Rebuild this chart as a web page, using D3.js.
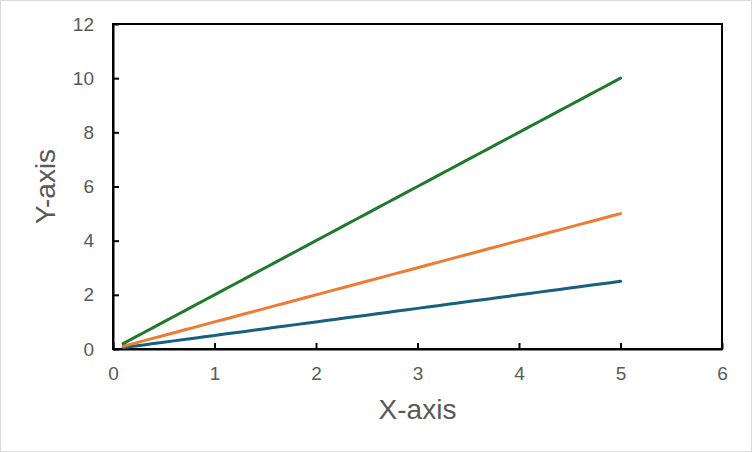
<!DOCTYPE html>
<html><head><meta charset="utf-8">
<script src="https://cdn.jsdelivr.net/npm/d3@7"></script>
<style>body{margin:0;background:#fff}svg{display:block}</style>
</head><body>
<script>
const xValues = [0.1,0.2,0.3,0.4,0.5,0.6,0.7,0.8,0.9,1.0,1.1,1.2,1.3,1.4,1.5,1.6,1.7,1.8,1.9,2.0,2.1,2.2,2.3,2.4,2.5,2.6,2.7,2.8,2.9,3.0,3.1,3.2,3.3,3.4,3.5,3.6,3.7,3.8,3.9,4.0,4.1,4.2,4.3,4.4,4.5,4.6,4.7,4.8,4.9,5.0];
const seriesGreen = [0.2,0.4,0.6,0.8,1.0,1.2,1.4,1.6,1.8,2.0,2.2,2.4,2.6,2.8,3.0,3.2,3.4,3.6,3.8,4.0,4.2,4.4,4.6,4.8,5.0,5.2,5.4,5.6,5.8,6.0,6.2,6.4,6.6,6.8,7.0,7.2,7.4,7.6,7.8,8.0,8.2,8.4,8.6,8.8,9.0,9.2,9.4,9.6,9.8,10.0];
const seriesOrange = [0.1,0.2,0.3,0.4,0.5,0.6,0.7,0.8,0.9,1.0,1.1,1.2,1.3,1.4,1.5,1.6,1.7,1.8,1.9,2.0,2.1,2.2,2.3,2.4,2.5,2.6,2.7,2.8,2.9,3.0,3.1,3.2,3.3,3.4,3.5,3.6,3.7,3.8,3.9,4.0,4.1,4.2,4.3,4.4,4.5,4.6,4.7,4.8,4.9,5.0];
const seriesBlue = [0.05,0.1,0.15,0.2,0.25,0.3,0.35,0.4,0.45,0.5,0.55,0.6,0.65,0.7,0.75,0.8,0.85,0.9,0.95,1.0,1.05,1.1,1.15,1.2,1.25,1.3,1.35,1.4,1.45,1.5,1.55,1.6,1.65,1.7,1.75,1.8,1.85,1.9,1.95,2.0,2.05,2.1,2.15,2.2,2.25,2.3,2.35,2.4,2.45,2.5];
const xTicks = [0,1,2,3,4,5,6];
const yTicks = [0,2,4,6,8,10,12];
const xTitle = "X-axis", yTitle = "Y-axis";

const W = 752, H = 452;
const L = 113, R = 722, T = 24, B = 349;
const svg = d3.select("body").append("svg").attr("width", W).attr("height", H);
svg.append("rect").attr("x",0.5).attr("y",0.5).attr("width",W-1).attr("height",H-1)
  .attr("fill","#fff").attr("stroke","#d9d9d9").attr("stroke-width",1);

const x = d3.scaleLinear().domain([0,6]).range([L,R]);
const y = d3.scaleLinear().domain([0,12]).range([B,T]);
const font = "'Liberation Sans', Arial, sans-serif";

svg.append("rect").attr("x",L).attr("y",T).attr("width",R-L).attr("height",B-T)
  .attr("fill","none").attr("stroke","#000").attr("stroke-width",2);

const xAxis = svg.append("g").attr("transform",`translate(0,${B})`)
  .call(d3.axisBottom(x).tickValues(xTicks).tickSizeInner(-6).tickSizeOuter(0).tickPadding(18).tickFormat(d3.format("d")));
xAxis.select(".domain").attr("stroke","#000").attr("stroke-width",2);
xAxis.selectAll(".tick line").attr("stroke","#000").attr("stroke-width",2);
xAxis.selectAll(".tick text").attr("fill","#595959").style("font-family",font).style("font-size","19px");

const yAxis = svg.append("g").attr("transform",`translate(${L},0)`)
  .call(d3.axisLeft(y).tickValues(yTicks).tickSizeInner(-6).tickSizeOuter(0).tickPadding(19).tickFormat(d3.format("d")));
yAxis.select(".domain").attr("stroke","#000").attr("stroke-width",2);
yAxis.selectAll(".tick line").attr("stroke","#000").attr("stroke-width",2);
yAxis.selectAll(".tick text").attr("fill","#595959").style("font-family",font).style("font-size","19px");

const series = [
  {vals: seriesBlue, color: "#17607f"},
  {vals: seriesOrange, color: "#ef7a31"},
  {vals: seriesGreen, color: "#1f7a2e"}
];
const line = d3.line().x(d=>x(d[0])).y(d=>y(d[1]));
series.forEach(s=>{
  svg.append("path").datum(xValues.map((v,i)=>[v,s.vals[i]]))
    .attr("d",line).attr("fill","none").attr("stroke",s.color)
    .attr("stroke-width",3).attr("stroke-linejoin","round").attr("stroke-linecap","round");
});

svg.append("text").attr("x",(L+R)/2).attr("y",419).attr("text-anchor","middle")
  .attr("fill","#595959").style("font-family",font).style("font-size","28px").text(xTitle);
svg.append("text").attr("transform",`translate(55,${(T+B)/2}) rotate(-90)`).attr("text-anchor","middle")
  .attr("fill","#595959").style("font-family",font).style("font-size","28px").text(yTitle);
</script>
</body></html>
